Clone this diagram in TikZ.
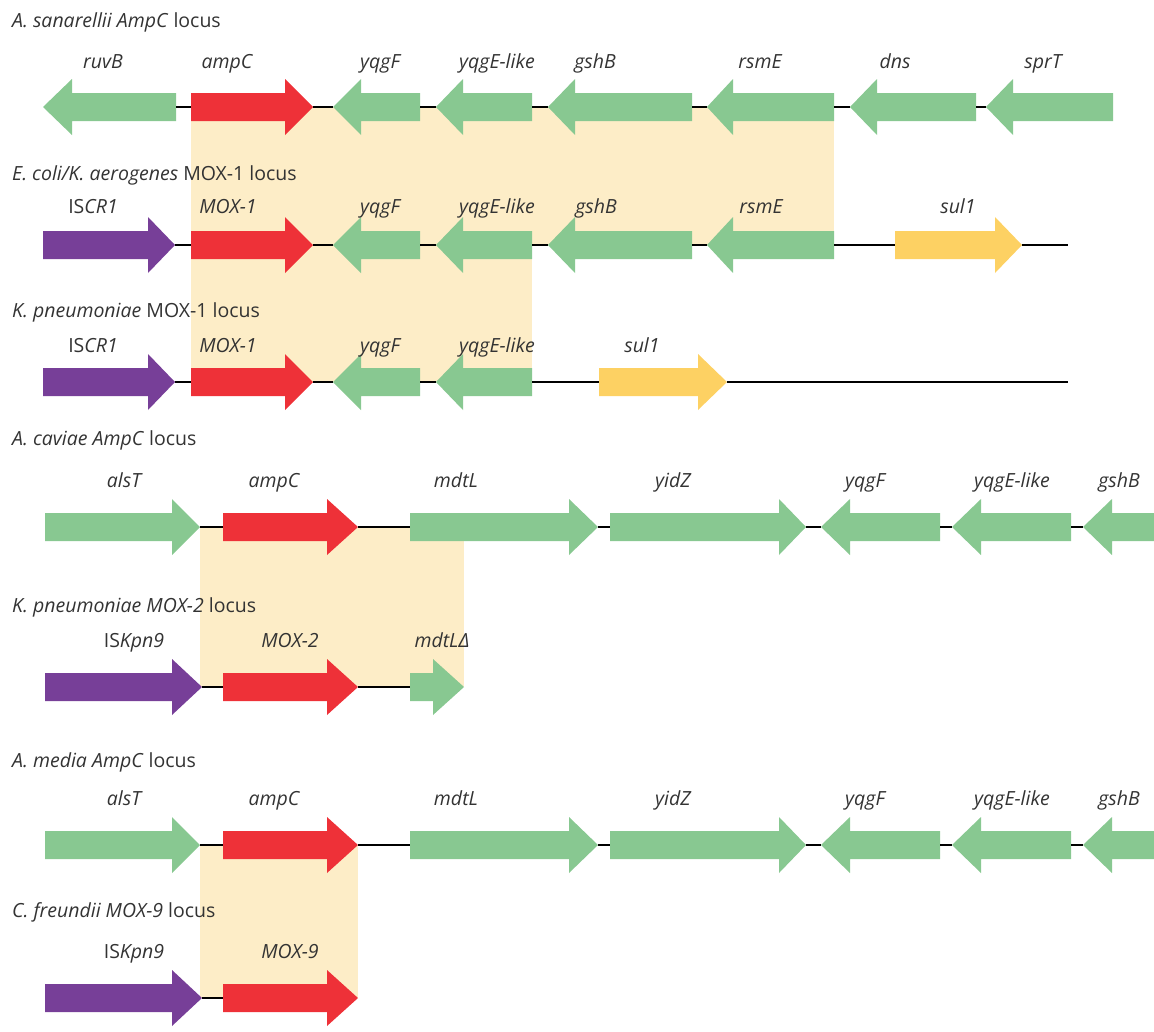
\documentclass[tikz,border=0pt]{standalone}
\usepackage{fontspec}
\setmainfont{Open Sans}
\definecolor{gGreen}{HTML}{88C891}
\definecolor{gRed}{HTML}{EE3138}
\definecolor{gPurple}{HTML}{773F98}
\definecolor{gYellow}{HTML}{FDD163}
\definecolor{hBeige}{HTML}{FDEDC7}
\definecolor{txt}{HTML}{333333}
% right-pointing gene: name, tail x, head base x, tip x, y, colour
\newcommand{\geneR}[6]{%
  \fill[#6] (#2,#5-14) -- (#3,#5-14) -- (#3,#5-28) -- (#4,#5) -- (#3,#5+28) -- (#3,#5+14) -- (#2,#5+14) -- cycle;
  \coordinate (#1-l) at (#2,#5);
  \coordinate (#1-r) at (#4,#5);}
% left-pointing gene: name, tip x, head base x, tail x, y, colour
\newcommand{\geneL}[6]{%
  \fill[#6] (#2,#5) -- (#3,#5-28) -- (#3,#5-14) -- (#4,#5-14) -- (#4,#5+14) -- (#3,#5+14) -- (#3,#5+28) -- cycle;
  \coordinate (#1-l) at (#2,#5);
  \coordinate (#1-r) at (#4,#5);}
\begin{document}
\begin{tikzpicture}[x=1pt,y=-1pt,
  lab/.style={anchor=base, text=txt, font=\fontsize{19.5}{23}\selectfont\itshape, inner sep=0pt},
  ttl/.style={anchor=base west, text=txt, font=\fontsize{19.5}{23}\selectfont, inner sep=0pt},
  link/.style={line width=1.8pt, black}]
\useasboundingbox (0,0) rectangle (1154,1031);

% shaded homology regions
\fill[hBeige] (191,107) rectangle (834,245);
\fill[hBeige] (191,245) rectangle (532,382);
\fill[hBeige] (200,527) rectangle (464,687);
\fill[hBeige] (200,845) rectangle (358,998);

% titles
\node[ttl] (t1) at (12,27) {\itshape A. sanarellii AmpC\/ \upshape locus};
\node[ttl] (t2) at (12,180) {\itshape E. coli/K. aerogenes\/ \upshape MOX-1 locus};
\node[ttl] (t3) at (12,317) {\itshape K. pneumoniae\/ \upshape MOX-1 locus};
\node[ttl] (t4) at (12,445) {\itshape A. caviae AmpC\/ \upshape locus};
\node[ttl] (t5) at (12,612) {\itshape K. pneumoniae MOX-2\/ \upshape locus};
\node[ttl] (t6) at (12,767) {\itshape A. media AmpC\/ \upshape locus};
\node[ttl] (t7) at (12,917) {\itshape C. freundii MOX-9\/ \upshape locus};

% ---------- row 1 ----------
\geneL{a-ruvB}{43}{72}{176}{107}{gGreen}
\geneR{a-ampC}{191}{285}{313}{107}{gRed}
\geneL{a-yqgF}{333}{361}{420}{107}{gGreen}
\geneL{a-yqgE}{436}{463}{532}{107}{gGreen}
\geneL{a-gshB}{548}{575}{692}{107}{gGreen}
\geneL{a-rsmE}{707}{733}{834}{107}{gGreen}
\geneL{a-dns}{850}{877}{976}{107}{gGreen}
\geneL{a-sprT}{986}{1013}{1113}{107}{gGreen}
\draw[link] (a-ruvB-r) -- (a-ampC-l);
\draw[link] (a-ampC-r) -- (a-yqgF-l);
\draw[link] (a-yqgF-r) -- (a-yqgE-l);
\draw[link] (a-yqgE-r) -- (a-gshB-l);
\draw[link] (a-gshB-r) -- (a-rsmE-l);
\draw[link] (a-rsmE-r) -- (a-dns-l);
\draw[link] (a-dns-r) -- (a-sprT-l);
\node[lab] (la1) at (103,68) {ruvB};
\node[lab] (la2) at (227,68) {ampC};
\node[lab] (la3) at (380,68) {yqgF};
\node[lab] (la4) at (497,68) {yqgE-like};
\node[lab] (la5) at (595,68) {gshB};
\node[lab] (la6) at (760,68) {rsmE};
\node[lab] (la7) at (895,68) {dns};
\node[lab] (la8) at (1043,68) {sprT};

% ---------- row 2 ----------
\geneR{b-IS}{43}{148}{175}{245}{gPurple}
\geneR{b-mox}{191}{285}{313}{245}{gRed}
\geneL{b-yqgF}{333}{361}{420}{245}{gGreen}
\geneL{b-yqgE}{436}{463}{532}{245}{gGreen}
\geneL{b-gshB}{548}{575}{692}{245}{gGreen}
\geneL{b-rsmE}{707}{733}{834}{245}{gGreen}
\geneR{b-sul}{895}{995}{1022}{245}{gYellow}
\coordinate (b-end) at (1068,245);
\draw[link] (b-IS-r) -- (b-mox-l);
\draw[link] (b-mox-r) -- (b-yqgF-l);
\draw[link] (b-yqgF-r) -- (b-yqgE-l);
\draw[link] (b-yqgE-r) -- (b-gshB-l);
\draw[link] (b-gshB-r) -- (b-rsmE-l);
\draw[link] (b-rsmE-r) -- (b-sul-l);
\draw[link] (b-sul-r) -- (b-end);
\node[lab] (lb1) at (93,213) {{\upshape IS}CR1};
\node[lab] (lb2) at (228,213) {MOX-1};
\node[lab] (lb3) at (380,213) {yqgF};
\node[lab] (lb4) at (497,213) {yqgE-like};
\node[lab] (lb5) at (596,213) {gshB};
\node[lab] (lb6) at (761,213) {rsmE};
\node[lab] (lb7) at (958,213) {sul1};

% ---------- row 3 ----------
\geneR{c-IS}{43}{148}{175}{382}{gPurple}
\geneR{c-mox}{191}{285}{313}{382}{gRed}
\geneL{c-yqgF}{333}{361}{420}{382}{gGreen}
\geneL{c-yqgE}{436}{463}{532}{382}{gGreen}
\geneR{c-sul}{599}{698}{727}{382}{gYellow}
\coordinate (c-end) at (1068,382);
\draw[link] (c-IS-r) -- (c-mox-l);
\draw[link] (c-mox-r) -- (c-yqgF-l);
\draw[link] (c-yqgF-r) -- (c-yqgE-l);
\draw[link] (c-yqgE-r) -- (c-sul-l);
\draw[link] (c-sul-r) -- (c-end);
\node[lab] (lc1) at (93,352) {{\upshape IS}CR1};
\node[lab] (lc2) at (228,352) {MOX-1};
\node[lab] (lc3) at (380,352) {yqgF};
\node[lab] (lc4) at (497,352) {yqgE-like};
\node[lab] (lc5) at (642,352) {sul1};

% ---------- row 4 ----------
\geneR{d-alsT}{45}{172}{200}{527}{gGreen}
\geneR{d-ampC}{223}{327}{358}{527}{gRed}
\geneR{d-mdtL}{410}{569}{598}{527}{gGreen}
\geneR{d-yidZ}{610}{779}{806}{527}{gGreen}
\geneL{d-yqgF}{821}{850}{940}{527}{gGreen}
\geneL{d-yqgE}{952}{981}{1071}{527}{gGreen}
\geneL{d-gshB}{1083}{1112}{1160}{527}{gGreen}
\draw[link] (d-alsT-r) -- (d-ampC-l);
\draw[link] (d-ampC-r) -- (d-mdtL-l);
\draw[link] (d-mdtL-r) -- (d-yidZ-l);
\draw[link] (d-yidZ-r) -- (d-yqgF-l);
\draw[link] (d-yqgF-r) -- (d-yqgE-l);
\draw[link] (d-yqgE-r) -- (d-gshB-l);
\node[lab] (ld1) at (124,487) {alsT};
\node[lab] (ld2) at (274,487) {ampC};
\node[lab] (ld3) at (456,487) {mdtL};
\node[lab] (ld4) at (673,487) {yidZ};
\node[lab] (ld5) at (865,487) {yqgF};
\node[lab] (ld6) at (1012,487) {yqgE-like};
\node[lab] (ld7) at (1119,487) {gshB};

% ---------- row 5 ----------
\geneR{e-IS}{45}{172}{202}{687}{gPurple}
\geneR{e-mox}{223}{327}{358}{687}{gRed}
\geneR{e-mdtL}{410}{433}{464}{687}{gGreen}
\draw[link] (e-IS-r) -- (e-mox-l);
\draw[link] (e-mox-r) -- (e-mdtL-l);
\node[lab] (le1) at (134,647) {{\upshape IS}Kpn9};
\node[lab] (le2) at (290,647) {MOX-2};
\node[lab] (le3) at (442,647) {mdtLΔ};

% ---------- row 6 ----------
\geneR{f-alsT}{45}{172}{200}{845}{gGreen}
\geneR{f-ampC}{223}{327}{358}{845}{gRed}
\geneR{f-mdtL}{410}{569}{598}{845}{gGreen}
\geneR{f-yidZ}{610}{779}{806}{845}{gGreen}
\geneL{f-yqgF}{821}{850}{940}{845}{gGreen}
\geneL{f-yqgE}{952}{981}{1071}{845}{gGreen}
\geneL{f-gshB}{1083}{1112}{1160}{845}{gGreen}
\draw[link] (f-alsT-r) -- (f-ampC-l);
\draw[link] (f-ampC-r) -- (f-mdtL-l);
\draw[link] (f-mdtL-r) -- (f-yidZ-l);
\draw[link] (f-yidZ-r) -- (f-yqgF-l);
\draw[link] (f-yqgF-r) -- (f-yqgE-l);
\draw[link] (f-yqgE-r) -- (f-gshB-l);
\node[lab] (lf1) at (124,805) {alsT};
\node[lab] (lf2) at (274,805) {ampC};
\node[lab] (lf3) at (456,805) {mdtL};
\node[lab] (lf4) at (673,805) {yidZ};
\node[lab] (lf5) at (865,805) {yqgF};
\node[lab] (lf6) at (1012,805) {yqgE-like};
\node[lab] (lf7) at (1119,805) {gshB};

% ---------- row 7 ----------
\geneR{g-IS}{45}{172}{202}{998}{gPurple}
\geneR{g-mox}{223}{327}{358}{998}{gRed}
\draw[link] (g-IS-r) -- (g-mox-l);
\node[lab] (lg1) at (134,958) {{\upshape IS}Kpn9};
\node[lab] (lg2) at (290,958) {MOX-9};
\end{tikzpicture}
\end{document}
